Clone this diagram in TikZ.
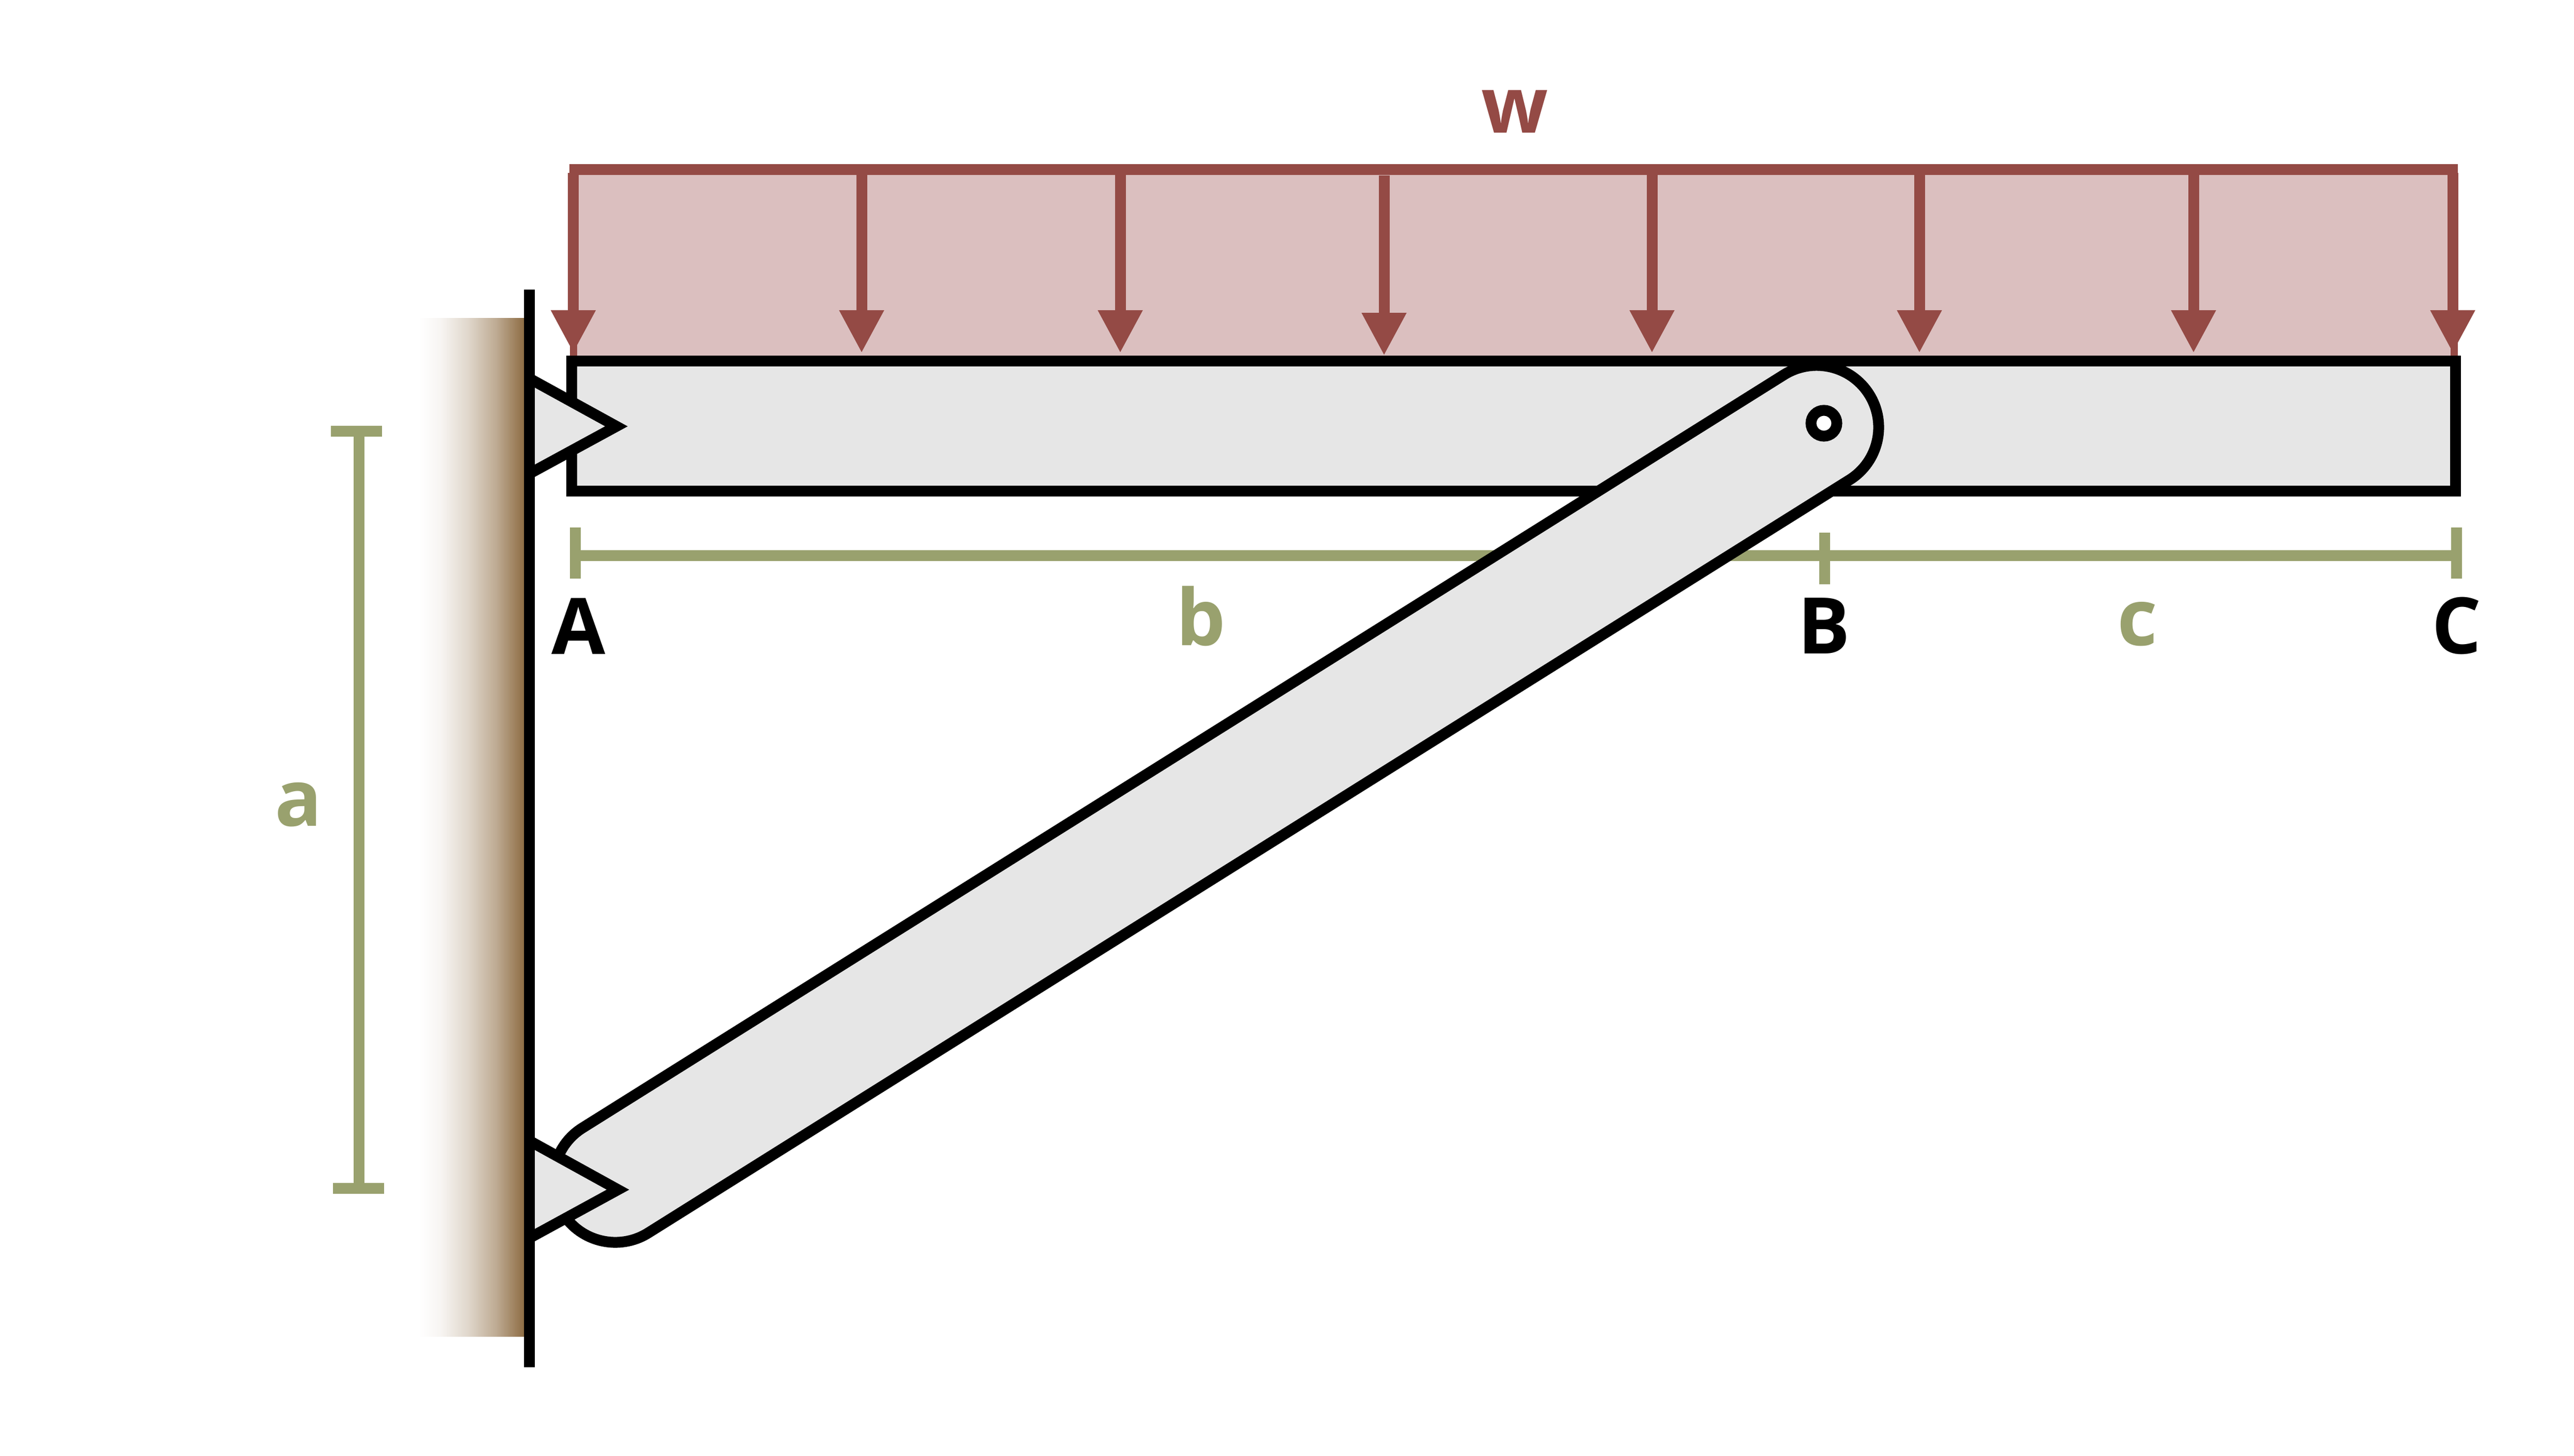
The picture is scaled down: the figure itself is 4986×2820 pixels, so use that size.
\documentclass[tikz,border=0pt]{standalone}
\usepackage{fontspec}
\setmainfont{Open Sans}
\usetikzlibrary{arrows.meta}
\definecolor{loadred}{HTML}{944A45}
\definecolor{loadrose}{HTML}{DBBFBF}
\definecolor{dimolive}{HTML}{99A16E}
\definecolor{partgrey}{HTML}{E6E6E6}
\definecolor{wallbrown}{HTML}{8F6E45}
\pgfdeclarehorizontalshading{wallshade}{100bp}{color(0bp)=(white); color(25bp)=(white); color(35bp)=(wallbrown!7!white); color(47.5bp)=(wallbrown!28!white); color(60bp)=(wallbrown!58!white); color(72.5bp)=(wallbrown); color(100bp)=(wallbrown)}
\tikzset{
  partline/.style={draw=black,line width=5.97pt,line join=miter},
  partfill/.style={partline,fill=partgrey},
  loadarrow/.style={draw=loadred,fill=loadred,line width=5.97pt,-{Triangle[width=23pt,length=23.6pt]}},
  loadedge/.style={draw=loadred,line width=3.98pt},
  loadtop/.style={draw=loadred,line width=5.97pt},
  dimline/.style={draw=dimolive,line width=5.97pt},
  dimtick/.style={draw=dimolive,line width=5.97pt},
  lbl/.style={font=\bfseries\fontsize{43}{43}\selectfont,anchor=base,inner sep=0pt,outer sep=0pt},
  pinhole/.style={circle,draw=black,fill=white,line width=5.97pt,inner sep=0pt,outer sep=0pt,minimum size=0.5cm}
}
\begin{document}
\begin{tikzpicture}[x=0.01cm,y=-0.01cm]
\useasboundingbox (0,0) rectangle (4986,2820);
% wall shading
\shade[shading=wallshade] (811,616) rectangle (1025,2589);
% load block
\fill[loadrose] (1110.5,328) rectangle (4754,690);
\coordinate (LTL) at (1103,328.5);
\coordinate (LTR) at (4761,328.5);
\draw[loadtop] (LTL) -- (LTR);
\draw[loadedge] (1110.5,335) -- (1110.5,695);
\draw[loadedge] (4754,325) -- (4754,695);
% load arrows
\foreach \n/\x/\ya/\yb in {1/1110.5/335/684,2/1669/335/684,3/2170/335/684,4/2681/340/689,5/3200/335/684,6/3718/335/684,7/4249/335/684,8/4751/335/684}{
  \coordinate (A\n t) at (\x,\ya);
  \coordinate (A\n b) at (\x,\yb);
  \draw[loadarrow] (A\n t) -- (A\n b);
}
% beam
\draw[partfill] (1107,699.5) rectangle (4756,951.5);
% upper support
\coordinate (SU1) at (1025,733);
\coordinate (SU2) at (1194,826);
\coordinate (SU3) at (1025,918);
\fill[partgrey] (SU1) -- (SU2) -- (SU3) -- cycle;
\draw[partline] (SU1) -- (SU2) -- (SU3);
% horizontal dimension
\coordinate (DA) at (1114.5,1076.5);
\coordinate (DB) at (3534,1076.5);
\coordinate (DC) at (4758,1076.5);
\draw[dimline] (DA) -- (DC);
\draw[dimtick] (1114.5,1022) -- (1114.5,1121);
\draw[dimtick] (3534,1032) -- (3534,1132);
\draw[dimtick] (4758,1022) -- (4758,1121);
% vertical dimension
\coordinate (DT) at (695.5,835.5);
\coordinate (DL) at (695.5,2302);
\draw[dimline] (DT) -- (DL);
\draw[dimtick] (641,835.5) -- (740,835.5);
\draw[dimtick] (645,2302) -- (744,2302);
% member
\draw[partfill] (3455.3,726.3) arc[start angle=-122.1,end angle=57.9,radius=120]
  -- (1255.7,2388.7) arc[start angle=57.9,end angle=237.9,radius=120] -- cycle;
% lower support
\coordinate (SL1) at (1025,2210);
\coordinate (SL2) at (1197,2305);
\coordinate (SL3) at (1025,2399);
\fill[partgrey] (SL1) -- (SL2) -- (SL3) -- cycle;
\draw[partline] (SL1) -- (SL2) -- (SL3);
% wall line
\coordinate (WT) at (1025,561);
\coordinate (WB) at (1025,2649);
\draw[partline] (WT) -- (WB);
% pin
\node[pinhole] (pin) at (3533,820) {};
% labels
\node[lbl,text=loadred] (w) at (2934.5,257) {w};
\node[lbl,text=black] (A) at (1121,1267) {A};
\node[lbl,text=black] (B) at (3533,1266) {B};
\node[lbl,text=black] (C) at (4759,1266) {C};
\node[lbl,text=dimolive] (a) at (578,1600) {a};
\node[lbl,text=dimolive] (b) at (2326,1250) {b};
\node[lbl,text=dimolive] (c) at (4140,1250) {c};
\end{tikzpicture}
\end{document}
